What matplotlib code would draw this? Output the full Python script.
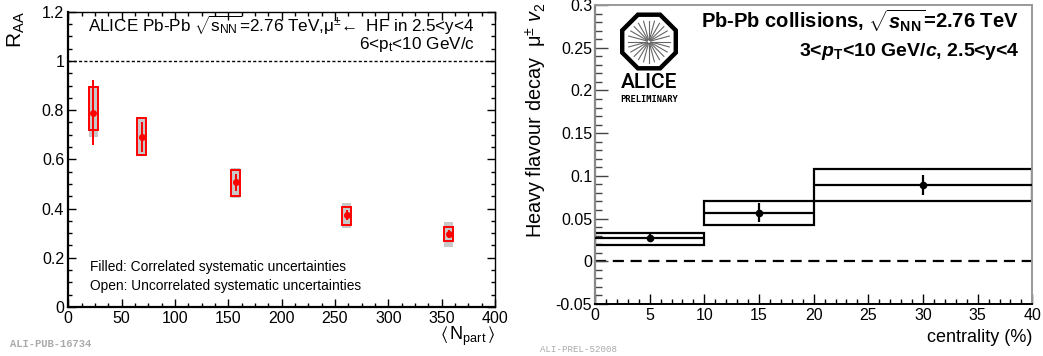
import numpy as np
import matplotlib
matplotlib.use("Agg")
import matplotlib.pyplot as plt
from matplotlib.ticker import MultipleLocator, FuncFormatter
from matplotlib.patches import RegularPolygon

# ---------------- data: left panel (R_AA vs Npart) ----------------
npart = [23.4, 68.7, 157.0, 260.8, 356.6]
raa = [0.79, 0.692, 0.507, 0.373, 0.297]
raa_stat = [0.133, 0.061, 0.034, 0.021, 0.016]
uncorr_lo = [0.720, 0.616, 0.453, 0.334, 0.267]
uncorr_hi = [0.893, 0.768, 0.555, 0.406, 0.324]
corr_lo = [0.690, 0.620, 0.442, 0.320, 0.245]
corr_hi = [0.893, 0.765, 0.564, 0.422, 0.345]

# ---------------- data: right panel (v2 vs centrality) ----------------
cent_lo = [0, 10, 20]
cent_hi = [10, 20, 40]
v2_x = [5, 15, 30]
v2 = [0.027, 0.057, 0.089]
v2_stat = [0.005, 0.011, 0.0115]
v2_sys_lo = [0.019, 0.0425, 0.070]
v2_sys_hi = [0.0333, 0.070, 0.108]

left_xticks = [0, 50, 100, 150, 200, 250, 300, 350, 400]
left_yticks = [0, 0.2, 0.4, 0.6, 0.8, 1.0, 1.2]
right_xticks = [0, 5, 10, 15, 20, 25, 30, 35, 40]
right_yticks = [-0.05, 0, 0.05, 0.1, 0.15, 0.2, 0.25, 0.3]

plt.rcParams['font.family'] = ['Liberation Sans', 'DejaVu Sans']
plt.rcParams['mathtext.fontset'] = 'custom'
plt.rcParams['mathtext.rm'] = 'Liberation Sans'
plt.rcParams['mathtext.it'] = 'Liberation Sans:italic'
plt.rcParams['mathtext.bf'] = 'Liberation Sans:bold'
plt.rcParams['mathtext.bfit'] = 'Liberation Sans:italic:bold'
plt.rcParams['mathtext.sf'] = 'Liberation Sans'

W, H = 1043, 356
fig = plt.figure(figsize=(W / 100, H / 100), dpi=100)


def fx(x):
    return x / W


def fy(y):
    return 1 - y / H


fmt = FuncFormatter(lambda v, p: '%g' % round(v, 4))

# ---------------- left panel ----------------
ax1 = fig.add_axes([fx(68.3), fy(307), fx(495 - 68.3), (307 - 11.7) / H])
ax1.set_xlim(0, 400)
ax1.set_ylim(0, 1.2)
ax1.set_xticks(left_xticks)
ax1.set_yticks(left_yticks)
ax1.xaxis.set_minor_locator(MultipleLocator(12.5))
ax1.yaxis.set_minor_locator(MultipleLocator(0.05))
ax1.xaxis.set_major_formatter(fmt)
ax1.yaxis.set_major_formatter(fmt)
ax1.tick_params(which='both', direction='in', top=True, right=True,
                labelsize=11.5, width=1)
ax1.tick_params(which='major', length=5.5, pad=3)
ax1.tick_params(which='minor', length=3)
for s in ['left', 'bottom']:
    ax1.spines[s].set_linewidth(1.6)
for s in ['top', 'right']:
    ax1.spines[s].set_linewidth(1.0)

ax1.axhline(1.0, color='black', lw=1.0, ls=(0, (2.2, 1.6)), zorder=1)

npart_a = np.array(npart)
c_lo = np.array(corr_lo); c_hi = np.array(corr_hi)
u_lo = np.array(uncorr_lo); u_hi = np.array(uncorr_hi)
ax1.bar(npart_a, c_hi - c_lo, bottom=c_lo, width=8.4, color='#c8c8c8',
        edgecolor='none', zorder=2)
ax1.bar(npart_a, u_hi - u_lo, bottom=u_lo, width=8.4, fill=False,
        edgecolor='#ff0000', lw=1.4, zorder=3)
ax1.errorbar(npart, raa, yerr=raa_stat, fmt='o', color='#ff0000', ms=4,
             elinewidth=1.4, capsize=0, zorder=4)

fig.text(fx(475), fy(25),
         r'ALICE Pb-Pb $\mathregular{\sqrt{s_{NN}}}$=2.76 TeV,$\mathregular{\mu^{\pm}\!\leftarrow}$ HF in 2.5<y<4',
         ha='right', va='center', fontsize=12.3)
fig.text(fx(475), fy(45), r'6<p$_\mathregular{t}$<10 GeV/c',
         ha='right', va='center', fontsize=12.3)
fig.text(fx(90), fy(267), 'Filled: Correlated systematic uncertainties',
         ha='left', va='center', fontsize=9.9)
fig.text(fx(90), fy(286), 'Open: Uncorrelated systematic uncertainties',
         ha='left', va='center', fontsize=9.9)
fig.text(fx(16), fy(11), r'$\mathregular{R_{AA}}$', rotation=90,
         ha='center', va='top', fontsize=15)
fig.text(fx(495), fy(340), r'$\mathregular{\langle\,N_{part}\,\rangle}$',
         ha='right', va='baseline', fontsize=13)
fig.text(fx(10), fy(344), 'ALI-PUB-16734', ha='left', va='center',
         fontsize=7.6, color='#aaaaaa', family='Liberation Mono', weight='bold')

# ---------------- right panel ----------------
ax2 = fig.add_axes([fx(595), fy(304), fx(1032.3 - 595), (304 - 5) / H])
ax2.set_xlim(0, 40)
ax2.set_ylim(-0.05, 0.3)
ax2.set_xticks(right_xticks)
ax2.set_yticks(right_yticks)
ax2.xaxis.set_minor_locator(MultipleLocator(1))
ax2.yaxis.set_minor_locator(MultipleLocator(0.01))
ax2.xaxis.set_major_formatter(fmt)
ax2.yaxis.set_major_formatter(fmt)
ax2.tick_params(which='both', direction='in', labelsize=11.5)
ax2.tick_params(axis='y', which='major', length=9.5, pad=2, color='#444444', width=1)
ax2.tick_params(axis='y', which='minor', length=5, color='#444444', width=1)
ax2.tick_params(axis='x', which='major', length=7, pad=3, width=1)
ax2.tick_params(axis='x', which='minor', length=3.6, width=1)
ax2.spines['left'].set_color('#888888')
ax2.spines['left'].set_linewidth(1.6)
ax2.spines['bottom'].set_color('black')
ax2.spines['bottom'].set_linewidth(1.4)
for s in ['top', 'right']:
    ax2.spines[s].set_color('#999999')
    ax2.spines[s].set_linewidth(1.4)

ax2.axhline(0, color='black', lw=1.6, ls=(0, (5, 3)), zorder=1)

clo = np.array(cent_lo); chi = np.array(cent_hi)
slo = np.array(v2_sys_lo); shi = np.array(v2_sys_hi)
ax2.bar((clo + chi) / 2, shi - slo, bottom=slo, width=chi - clo, fill=False,
        edgecolor='black', lw=1.6, zorder=2)
ax2.errorbar(v2_x, v2, xerr=[np.array(v2_x) - clo, chi - np.array(v2_x)],
             yerr=v2_stat, fmt='o', color='black', ms=4.5, elinewidth=1.6,
             capsize=0, zorder=3)

fig.text(fx(1019), fy(21),
         r'Pb-Pb collisions, $\sqrt{\mathbfit{s}_{\mathbf{NN}}}$=2.76 TeV',
         ha='right', va='center', fontsize=14.5, weight='bold')
fig.text(fx(1019), fy(52),
         r'3<$\mathbfit{p}_{\mathbf{T}}$<10 GeV/$\mathbfit{c}$, 2.5<y<4',
         ha='right', va='center', fontsize=14, weight='bold')
fig.text(fx(536), fy(2), r'Heavy flavour decay  $\mathregular{\mu^{\pm}}$ $\mathit{v}_\mathregular{2}$',
         rotation=90, ha='center', va='top', fontsize=14.3)
fig.text(fx(1032), fy(337), 'centrality (%)', ha='right', va='center',
         fontsize=13)
fig.text(fx(540), fy(349), 'ALI-PREL-52008', ha='left', va='center',
         fontsize=6.6, color='#aaaaaa', family='Liberation Mono')

# ---------------- ALICE logo ----------------
axl = fig.add_axes([fx(600), fy(110), fx(100), 105 / H])
axl.set_xlim(600, 700)
axl.set_ylim(110, 5)
axl.axis('off')
cx, cy = 649, 41.5
axl.add_patch(RegularPolygon((cx, cy), numVertices=8, radius=29.0,
                             orientation=np.pi / 8, fill=False,
                             edgecolor='black', lw=3.2))
for a in np.arange(0, 360, 15):
    r = np.deg2rad(a)
    axl.plot([cx + 2 * np.cos(r), cx + 21 * np.cos(r)],
             [cy + 2 * np.sin(r), cy + 21 * np.sin(r)],
             color='#666666', lw=0.8)
axl.text(cx, 82, 'ALICE', ha='center', va='center', fontsize=15,
         family='Roboto', weight='medium')
axl.text(cx, 100, 'PRELIMINARY', ha='center', va='center', fontsize=6.3,
         family='DejaVu Sans Mono', weight='bold')

fig.savefig('out.png', dpi=100)
